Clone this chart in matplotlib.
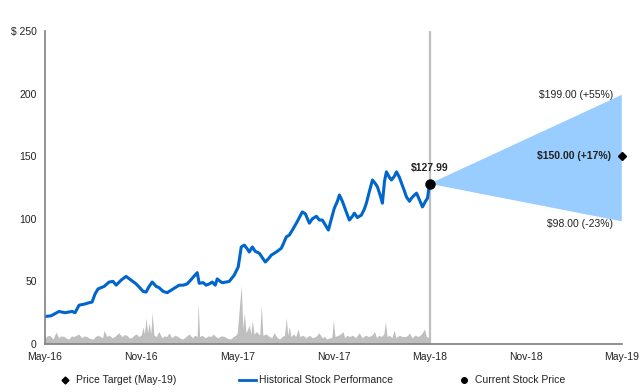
import numpy as np
import matplotlib
matplotlib.use("Agg")
import matplotlib.pyplot as plt
from matplotlib.lines import Line2D

plt.rcParams['font.family'] = ['Liberation Sans', 'DejaVu Sans']

# months since May-16
price_month = [0, 0.375, 0.875, 1.25, 1.69, 1.875, 2.125, 2.5, 2.75, 2.94, 3.125, 3.31, 3.69, 4.0,
               4.25, 4.44, 4.75, 5.06, 5.375, 5.69, 5.875, 6.125, 6.31, 6.5, 6.69, 6.94, 7.125,
               7.375, 7.625, 7.875, 8.125, 8.375, 8.625, 8.875, 9.19, 9.5, 9.625, 9.875, 10.06,
               10.25, 10.44, 10.625, 10.75, 10.94, 11.06, 11.31, 11.5, 11.81, 12.06, 12.25, 12.44,
               12.625, 12.75, 12.94, 13.125, 13.375, 13.56, 13.75, 13.94, 14.125, 14.44, 14.75,
               14.875, 15.06, 15.25, 15.44, 15.69, 15.875, 16.06, 16.25, 16.5, 16.69, 16.94,
               17.125, 17.31, 17.5, 17.69, 17.875, 18.06, 18.25, 18.375, 18.56, 18.69, 18.875,
               19.0, 19.19, 19.31, 19.5, 19.75, 19.94, 20.06, 20.25, 20.44, 20.625, 20.75, 20.94,
               21.06, 21.19, 21.31, 21.5, 21.625, 21.81, 21.94, 22.125, 22.25, 22.44, 22.56,
               22.75, 22.875, 23.06, 23.19, 23.375, 23.56, 23.75, 23.875, 24.0]
price = [22, 22.5, 26, 25, 26, 25, 31, 32, 33, 33.5, 40, 44, 46, 49.5,
         50, 47, 51, 54, 51, 48, 45.5, 42, 41.5, 46, 49.5, 46, 45,
         42, 41, 43, 45, 47, 47, 48, 52.5, 57, 48.5, 49, 47,
         48, 49.5, 47, 52, 50, 49, 49.5, 50, 55, 61.5, 77.5, 79,
         76, 73.5, 77.5, 74, 72.5, 69, 65.5, 68, 71, 73.5, 76.5,
         80, 85.5, 87, 91, 96.5, 101, 105.5, 104, 96.5, 100, 102,
         99, 99, 95, 91, 100, 108.5, 114, 119, 114, 109.5, 103,
         99, 102, 104.5, 101, 103, 108, 112.5, 122, 131, 128, 125.5, 118,
         112.5, 130, 137.5, 133, 131, 134, 137.5, 133, 128.5, 122, 117.5,
         114, 116.5, 119, 120.5, 115, 109.5, 114, 116.5, 127.99]

vol_month = [0.0, 0.15, 0.3, 0.5, 0.69, 0.85, 1.0, 1.2, 1.35, 1.5, 1.65, 1.8, 2.1, 2.3, 2.45, 2.6,
             2.8, 3.0, 3.15, 3.3, 3.6, 3.69, 3.85, 4.0, 4.2, 4.4, 4.6, 4.8, 4.95, 5.1, 5.25, 5.4,
             5.55, 5.7, 5.85, 6.0, 6.125, 6.2, 6.31, 6.4, 6.5, 6.6, 6.69, 6.8, 6.95, 7.1,
             7.3, 7.45, 7.6, 7.75, 7.9, 8.1, 8.3, 8.45, 8.6, 8.8, 9.0, 9.2, 9.35, 9.5, 9.56, 9.65,
             9.8, 10.0, 10.2, 10.35, 10.5, 10.65, 10.8, 11.0, 11.2, 11.4, 11.6, 11.75, 11.9, 12.0,
             12.25, 12.35, 12.44, 12.55, 12.75, 12.85, 12.94, 13.05, 13.2, 13.4, 13.5, 13.6, 13.8,
             14.0, 14.15, 14.3, 14.5, 14.65, 14.8, 14.95, 15.06, 15.15, 15.25, 15.35, 15.5, 15.65,
             15.8, 15.9, 16.1, 16.3, 16.5, 16.7, 16.9, 17.1, 17.3, 17.45, 17.6, 17.75, 17.9, 18.0,
             18.1, 18.3, 18.45, 18.6, 18.7, 18.85, 19.0, 19.2, 19.4, 19.6, 19.8, 20.0, 20.2, 20.4,
             20.56, 20.7, 20.85, 21.0, 21.15, 21.25, 21.35, 21.5, 21.65, 21.8, 21.9, 22.1, 22.3,
             22.5, 22.65, 22.75, 22.9, 23.1, 23.3, 23.5, 23.69, 23.8, 24.0]
volume = [5, 6.5, 7, 4, 9.6, 5, 6.5, 6, 4.5, 4, 6.5, 6, 8, 5, 6.5, 6,
          4.5, 4, 6, 7, 5, 11, 6, 7, 5, 6.5, 9, 6, 7.5, 7, 5, 5,
          7, 8, 6, 7, 13.5, 8, 21, 9, 17, 8, 25, 7, 6, 10,
          5, 6.5, 6, 9, 5, 7, 6, 4.5, 4, 6, 8, 5, 7, 6, 33, 6,
          7, 5, 6.5, 6, 8, 6, 5, 6.5, 6, 4.5, 4, 6, 7, 9,
          47, 12, 25, 9, 15, 8, 19, 8, 10, 7, 31, 7, 8,
          6, 5, 9, 5, 4, 6, 7, 21, 7, 14, 6, 8, 6,
          12, 6, 7, 5, 7, 5, 6, 9, 5, 6, 4, 5, 5, 19,
          6, 7, 8, 10, 5, 7, 6, 7, 5, 9, 5, 7, 6, 7,
          10, 5, 7, 6, 8, 18, 6, 7, 5, 11, 5, 7, 6,
          6, 7, 9, 5, 7, 6, 8, 12, 6, 5]

current = 127.99
target = 150.0
high = 199.0
low = 98.0

tick_pos = [0, 6, 12, 18, 24, 30, 36]
tick_labels = ['May-16', 'Nov-16', 'May-17', 'Nov-17', 'May-18', 'Nov-18', 'May-19']
ytick_pos = [0, 50, 100, 150, 200, 250]
ytick_labels = ['0', '50', '100', '150', '200', '$ 250']

txt = '#222222'
fig = plt.figure(figsize=(6.41, 3.92), dpi=100)
ax = fig.add_axes([0.0702, 0.1224, 0.8998, 0.7986])

ax.fill_between(vol_month, 0, volume, color='#BFBFBF', lw=0)
ax.plot(price_month, price, color='#0066CC', lw=2.2, solid_joinstyle='round')
ax.fill([24, 36, 36], [current, high, low], color='#99CCFF', lw=0)
ax.axvline(24, color='#BFBFBF', lw=1.6, zorder=1)
ax.plot(24, current, 'o', color='black', ms=6.5, zorder=5)
ax.plot(36, target, 'D', color='black', ms=4.5, zorder=5, clip_on=False)

ax.annotate('$127.99', (24, current), xytext=(0, 8), textcoords='offset points',
            ha='center', va='bottom', fontsize=7.5, fontweight='bold', color=txt)
ax.annotate('$199.00 (+55%)', (36, high), xytext=(-6, 0), textcoords='offset points',
            ha='right', va='center', fontsize=7.5, color=txt)
ax.annotate('$150.00 (+17%)', (36, target), xytext=(-8, 0), textcoords='offset points',
            ha='right', va='center', fontsize=7.5, fontweight='bold', color=txt)
ax.annotate('$98.00 (-23%)', (36, low), xytext=(-6, -2), textcoords='offset points',
            ha='right', va='center', fontsize=7.5, color=txt)

ax.set_xlim(0, 36)
ax.set_ylim(0, 250)
ax.set_xticks(tick_pos)
ax.set_xticklabels(tick_labels)
ax.set_yticks(ytick_pos)
ax.set_yticklabels(ytick_labels)
ax.tick_params(length=0, labelsize=7.5, labelcolor=txt, pad=6)
for s in ['top', 'right']:
    ax.spines[s].set_visible(False)
for s in ['left', 'bottom']:
    ax.spines[s].set_color('#808080')
    ax.spines[s].set_linewidth(1.2)

handles = [Line2D([], [], marker='D', color='black', ls='none', ms=3.5),
           Line2D([], [], color='#0066CC', lw=2),
           Line2D([], [], marker='o', color='black', ls='none', ms=4)]
labels = ['Price Target (May-19)', 'Historical Stock Performance', 'Current Stock Price']
fig.legend(handles, labels, loc='center', bbox_to_anchor=(0.485, 0.03), ncol=3,
           frameon=False, fontsize=7.5, handlelength=1.6, columnspacing=6.0,
           handletextpad=0.3, labelcolor=txt)

fig.savefig('out.png', dpi=100)
